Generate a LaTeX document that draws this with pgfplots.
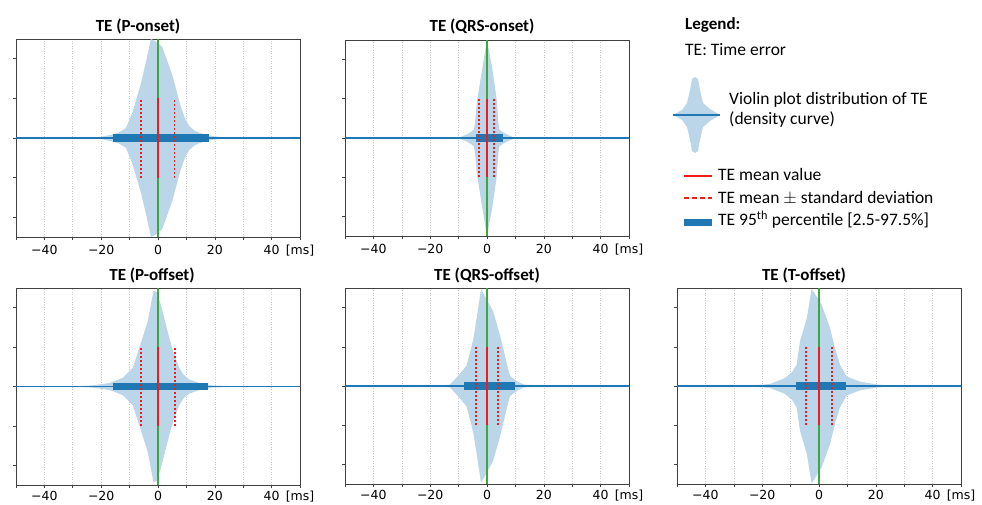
\documentclass[border=0pt]{standalone}
\usepackage{fontspec}
\setmainfont{Carlito}
\newfontfamily\dejavu{DejaVu Sans}
\usepackage{pgfplots}
\usepackage{pgfplotstable}
\pgfplotsset{compat=1.18}

\definecolor{cz}{HTML}{1F77B4}
\definecolor{vfill}{HTML}{BCD6E9}
\definecolor{gl}{HTML}{3DA63D}
\definecolor{rd}{HTML}{F21B1B}

% violin half-widths (x in ms, h = density half width)
\pgfplotstableread{
x h
-50 0
-25 0.01
-20 0.03
-16 0.09
-14 0.13
-11.3 0.25
-9 0.65
-6 1.38
-4 2.0
-2.5 2.5
-1 2.45
1.5 2.3
3 2.0
5 1.6
6.5 1.2
8 0.8
9.5 0.5
11 0.3
13 0.18
15 0.12
18 0.06
22 0.025
26 0.01
50 0
}\va
\pgfplotstableread{
x h
-50 0
-10 0
-7.2 0.09
-5.5 0.16
-4.6 0.22
-4.2 0.4
-3.6 0.9
-2.5 1.4
-1.5 1.85
-0.5 2.3
0 2.5
0.5 2.3
1.8 1.8
3.4 1.0
4 0.4
4.3 0.22
5.75 0.14
8 0.06
10 0
50 0
}\vb
\pgfplotstableread{
x h
-50 0
-28 0.01
-23 0.03
-17 0.09
-12.4 0.22
-8.9 0.47
-6.6 0.98
-3.6 1.66
-1.6 2.43
-0.5 2.4
1 2.08
2.5 1.65
4 1.23
5.5 0.85
7.5 0.47
9 0.3
11 0.18
14.5 0.09
19 0.03
25 0.01
50 0
}\vc
\pgfplotstableread{
x h
-50 0
-16 0
-15.4 0.01
-13 0.04
-10.7 0.22
-7.2 0.52
-6 0.85
-4.8 1.2
-3.5 1.8
-2.1 2.47
0 2.2
2.2 1.9
4.6 1.29
6.3 0.78
7.2 0.5
8.1 0.26
10.4 0.13
12.8 0.04
17.5 0.01
50 0
}\vd
\pgfplotstableread{
x h
-50 0
-26 0.01
-20.8 0.03
-17.3 0.05
-12 0.2
-9.5 0.35
-7.9 0.54
-6.7 1.14
-4.3 1.73
-2.6 2.48
-1 2.3
0.9 2.08
3.9 1.48
5.5 1.0
7.4 0.54
9.75 0.24
14.5 0.11
20.3 0.04
26 0.01
50 0
}\ve
\pgfplotstableread{
x h
-22 0
-13 5
-8 12
-5 25
-3 36
0 38
3 36
5 25
8 12
15 6
25 0
}\vicon

\pgfplotsset{
  vp/.style={
    scale only axis, width=284pt,
    xmin=-50, xmax=50, ymin=-2.5, ymax=2.5,
    xtick={-50,-40,...,50},
    xticklabels={,−40,,−20,,0,,20,,40,[ms]},
    ytick={-2,-1,0,1,2}, yticklabels={},
    xmajorgrids,
    grid style={black!22, dash pattern=on 1pt off 1.5pt, line width=0.6pt},
    tick align=outside, xtick pos=bottom, ytick pos=left,
    major tick length=3pt,
    tick style={black!75, line width=0.6pt},
    axis line style={black!75, line width=0.8pt},
    xticklabel style={font=\dejavu\fontsize{12.5}{14}\selectfont, anchor=base, inner sep=0pt, yshift=-14pt},
  },
  vlow/.style={xticklabel style={yshift=2pt}},
}
% violin drawing macro: #1 table, #2 bar lo, #3 bar hi, #4 sd lo, #5 sd hi
\newcommand\violin[5]{%
  \addplot[fill=vfill, draw=none] table[x=x, y=h] {#1};
  \addplot[fill=vfill, draw=none] table[x=x, y expr=-\thisrow{h}] {#1};
  \addplot[cz, line width=1.8pt] coordinates {(-50,0) (50,0)};
  \addplot[cz, line width=7.5pt] coordinates {(#2,0) (#3,0)};
  \addplot[gl, line width=1.5pt] coordinates {(0,-2.5) (0,2.5)};
  \addplot[rd, line width=2pt] coordinates {(0,-1) (0,1)};
  \addplot[rd, line width=1.8pt, dash pattern=on 1.8pt off 2.2pt] coordinates {(#4,-1) (#4,1)};
  \addplot[rd, line width=1.8pt, dash pattern=on 1.8pt off 2.2pt] coordinates {(#5,-1) (#5,1)};
}

\begin{document}
\begin{tikzpicture}[x=1pt,y=1pt]
\useasboundingbox (0,0) rectangle (982,504);

\begin{axis}[vp, height=198pt, at={(16pt,267pt)}, anchor=south west]
\violin{\va}{-16}{17.8}{-5.9}{5.8}
\end{axis}
\begin{axis}[vp, height=196pt, at={(345pt,268pt)}, anchor=south west]
\violin{\vb}{-3.9}{5.75}{-2.8}{2.5}
\end{axis}
\begin{axis}[vp, vlow, height=197pt, at={(16pt,19pt)}, anchor=south west]
\violin{\vc}{-16}{17.7}{-6}{6.1}
\end{axis}
\begin{axis}[vp, vlow, height=196pt, at={(345pt,20pt)}, anchor=south west]
\violin{\vd}{-8}{10}{-3.75}{4}
\end{axis}
\begin{axis}[vp, vlow, height=196pt, at={(677pt,20pt)}, anchor=south west]
\violin{\ve}{-8.1}{9.5}{-4.7}{4.5}
\end{axis}

% titles
\begin{scope}[every node/.style={font=\bfseries\fontsize{17}{20}\selectfont, anchor=base, inner sep=0pt}]
\node at (138,472.5) {TE (P-onset)};
\node at (482,472.5) {TE (QRS-onset)};
\node at (152,224) {TE (P-offset)};
\node at (487,224) {TE (QRS-offset)};
\node at (804,224) {TE (T-offset)};
\end{scope}

% legend
\begin{axis}[scale only axis, width=47pt, height=76pt, at={(673pt,351pt)}, anchor=south west,
  hide axis, xmin=-22, xmax=25, ymin=-38, ymax=38, clip=false]
\addplot[fill=vfill, draw=none] table[x=x, y=h] {\vicon};
\addplot[fill=vfill, draw=none] table[x=x, y expr=-\thisrow{h}] {\vicon};
\addplot[cz, line width=1.2pt] coordinates {(-22,0) (25,0)};
\end{axis}
\begin{scope}[every node/.style={font=\fontsize{17.5}{20}\selectfont, anchor=base west, inner sep=0pt}]
\node[font=\bfseries\fontsize{17}{20}\selectfont] at (685,474.7) {Legend:};
\node at (685,448) {TE: Time error};
\node at (729,399) {Violin plot distribution of TE};
\node at (729,379.7) {(density curve)};
\draw[rd, line width=2pt] (684,328.3) -- (712,328.3);
\node at (718,323) {TE mean value};
\draw[rd, line width=2pt, dash pattern=on 5pt off 3pt] (684,306.3) -- (712,306.3);
\node at (718,300.7) {TE mean $\pm$ standard deviation};
\draw[cz, line width=7.5pt] (684,281.7) -- (712,281.7);
\node at (718,278) {TE 95\textsuperscript{th} percentile [2.5-97.5\%]};
\end{scope}
\end{tikzpicture}
\end{document}
